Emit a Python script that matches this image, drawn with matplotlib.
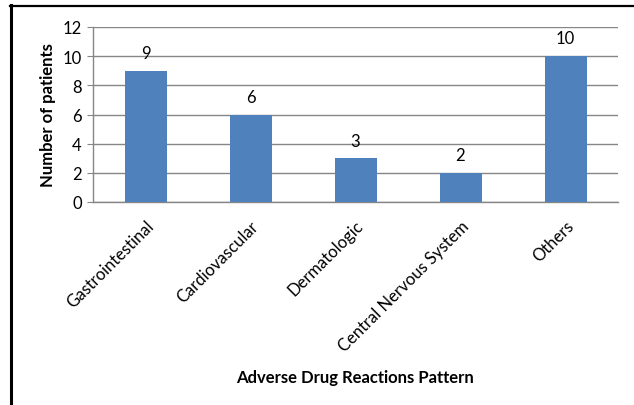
import matplotlib
matplotlib.use("Agg")
import matplotlib.pyplot as plt
from matplotlib.lines import Line2D

plt.rcParams['font.family'] = ['Lato', 'DejaVu Sans']

categories = ["Gastrointestinal", "Cardiovascular", "Dermatologic",
              "Central Nervous System", "Others"]
patients = [9, 6, 3, 2, 10]
yticks = [0, 2, 4, 6, 8, 10, 12]

bar_color = "#4F81BD"
grid_color = "#868686"

fig = plt.figure(figsize=(6.34, 4.06), dpi=100)
ax = fig.add_axes([93 / 634, 1 - 203 / 406, 525 / 634, 175 / 406])

x = range(len(categories))
ax.bar(x, patients, width=0.4, color=bar_color, zorder=3)
for xi, v in zip(x, patients):
    ax.annotate(str(v), (xi, v), xytext=(0, 7), textcoords="offset points",
                ha="center", va="bottom", fontsize=12)

ax.set_xlim(-0.5, len(categories) - 0.5)
ax.set_ylim(0, 12)
ax.set_yticks(yticks)
ax.yaxis.grid(True, color=grid_color, linewidth=1, zorder=0)
ax.tick_params(axis="y", length=4, color=grid_color, labelsize=12, pad=4)
ax.tick_params(axis="x", length=0, labelsize=12, pad=11)
ax.set_xticks(list(x))
ax.set_xticklabels(categories, rotation=45, ha="right", va="top",
                   rotation_mode="anchor")

for side in ["top", "right"]:
    ax.spines[side].set_visible(False)
for side in ["left", "bottom"]:
    ax.spines[side].set_color(grid_color)
    ax.spines[side].set_linewidth(1)

ax.set_ylabel("Number of patients", fontsize=12, fontweight="bold", labelpad=5)
fig.text(355 / 634, 1 - 378 / 406, "Adverse Drug Reactions Pattern",
         ha="center", va="center", fontsize=12, fontweight="bold")

# frame lines around the picture (top and left only)
fig.add_artist(Line2D([10 / 634, 1], [1 - 7 / 406, 1 - 7 / 406],
                      color="black", linewidth=1.6, transform=fig.transFigure))
fig.add_artist(Line2D([11 / 634, 11 / 634], [1 - 6 / 406, 0],
                      color="black", linewidth=2.2, transform=fig.transFigure))

fig.savefig("out.png", dpi=100)
